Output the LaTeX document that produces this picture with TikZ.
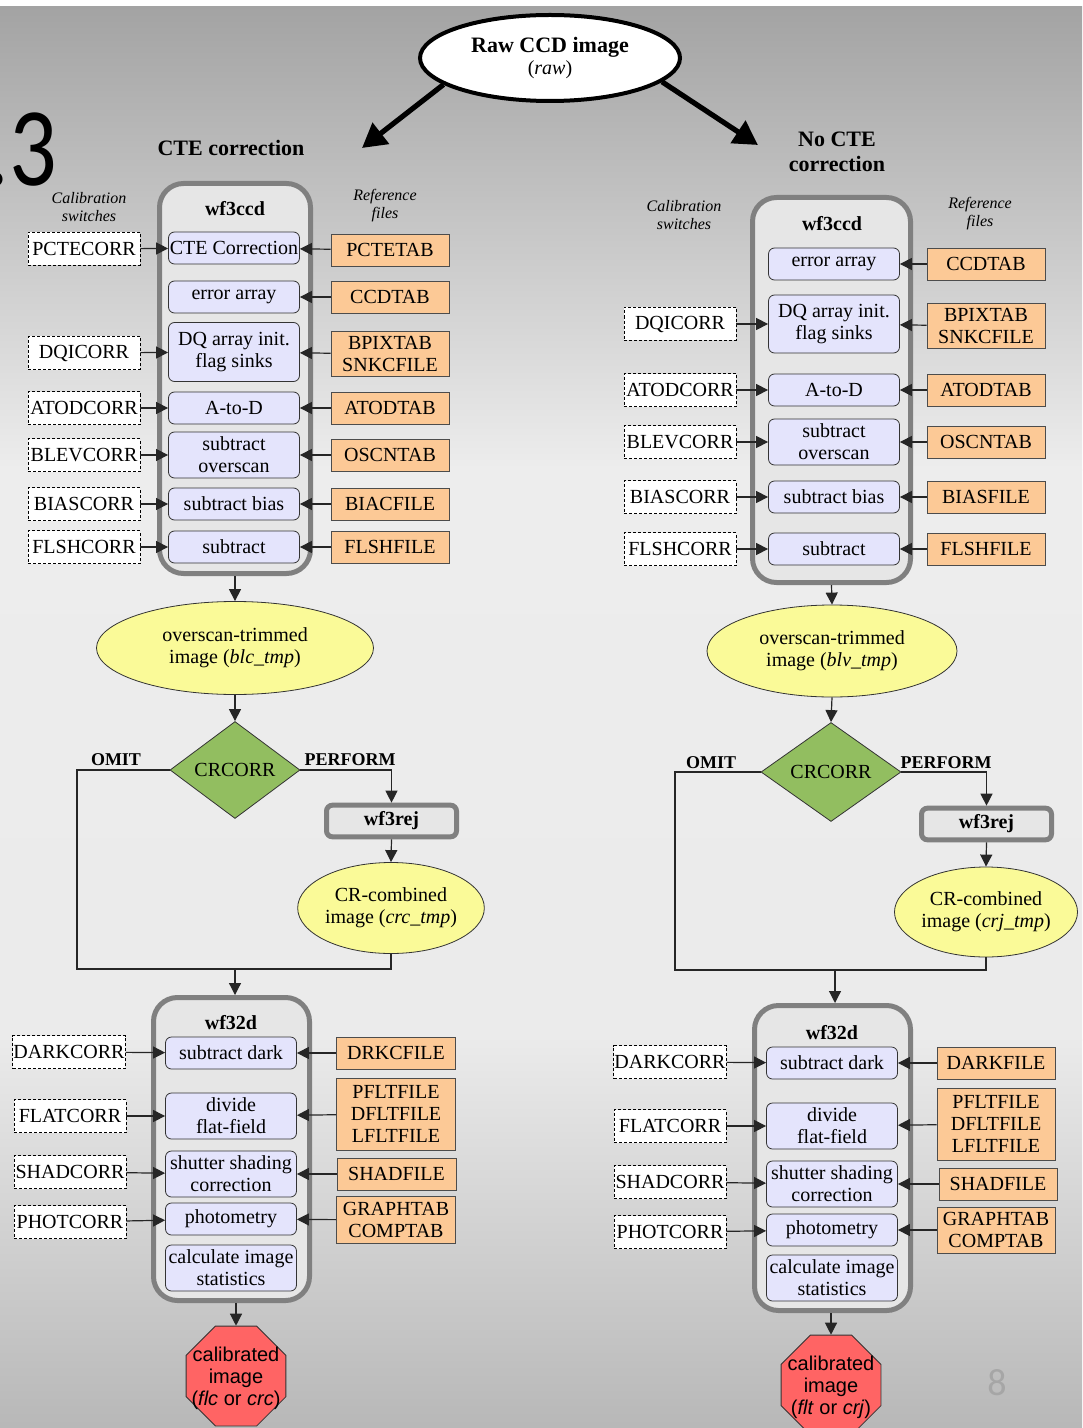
\documentclass[tikz,border=0pt]{standalone}
\usepackage{fontspec}
\setmainfont{Liberation Serif}
\newfontfamily\sansf{Liberation Sans}
\newfontfamily\slidef{Carlito}
\usetikzlibrary{positioning, shapes.geometric, arrows.meta}
\definecolor{procblue}{RGB}{228,228,252}
\definecolor{reforange}{RGB}{252,201,150}
\definecolor{imgyellow}{RGB}{250,250,152}
\definecolor{decgreen}{RGB}{146,190,96}
\definecolor{outred}{RGB}{255,100,100}
\definecolor{modfill}{RGB}{230,230,230}
\definecolor{modline}{RGB}{128,128,128}

\begin{document}
\begin{tikzpicture}[x=0.5pt, y=-0.5pt, font=\fontsize{10}{11}\selectfont,
  proc/.style={draw=black!80, fill=procblue, rounded corners=3pt, align=center,
    minimum width=65.5pt, minimum height=16pt, inner xsep=0.5pt, inner ysep=1pt},
  sw/.style={draw, dash pattern=on 1.5pt off 1pt, fill=white, minimum width=56pt,
    minimum height=16.5pt, inner xsep=0.3pt},
  ref/.style={draw=black!70, fill=reforange, align=center, minimum width=59pt,
    minimum height=16pt, inner xsep=0.5pt, inner ysep=1pt},
  module/.style={draw=modline, line width=2.5pt, fill=modfill, rounded corners=12pt},
  rej/.style={draw=modline, line width=2.5pt, fill=modfill, rounded corners=3pt,
    minimum width=65pt, minimum height=14.5pt, font=\bfseries},
  img/.style={ellipse, draw=black!80, fill=imgyellow, align=center, inner sep=0pt},
  dec/.style={diamond, draw=black!80, fill=decgreen, inner sep=0pt},
  calimg/.style={regular polygon, regular polygon sides=8, draw=black!80, fill=outred,
    inner sep=0pt, minimum size=54pt, font=\sansf\fontsize{10}{11}\selectfont},
  lab/.style={align=center, font=\itshape\fontsize{8}{9}\selectfont},
  head/.style={align=center, font=\bfseries\fontsize{11}{12.5}\selectfont},
  branch/.style={font=\bfseries\fontsize{9}{10}\selectfont},
  conn/.style={draw=black!85, line width=0.6pt},
  arr/.style={conn, -{Triangle[length=6pt,width=6pt]}},
  big/.style={draw=black, line width=2.6pt, -{Triangle[length=12pt,width=13pt]}}]

\useasboundingbox (0,0) rectangle (1082,1428);
\shade[top color=black!36, bottom color=black!7] (0,7) rectangle (1082,470);
\shade[top color=black!7, bottom color=black!8] (0,469) rectangle (1082,1040);
\shade[top color=black!8, bottom color=black!28] (0,1039) rectangle (1082,1428);

\node[font=\slidef\fontsize{56}{56}\selectfont, anchor=base east] (num) at (64,186)
  {\scalebox{0.84}[1]{.3}};
\node[font=\slidef\fontsize{19}{19}\selectfont, text=black!35] (page) at (997,1383) {8};

\node[ellipse, draw=black, line width=2pt, fill=white, minimum width=130pt,
  minimum height=43pt, inner sep=0pt, align=center] (raw) at (550,58)
  {{\bfseries\fontsize{11}{12.5}\selectfont Raw CCD image}\\(\textit{raw})};
\coordinate (Ltip) at (362,148);
\coordinate (Rtip) at (758,145);
\draw[big] (raw.194) -- (Ltip);
\draw[big] (raw.-12) -- (Rtip);

\node[head] (Lhead) at (231,148) {CTE correction};
\node[head] (Rhead) at (837,152) {No CTE\\correction};

\node[module, minimum width=75.5pt, minimum height=195pt] (Lccd) at (235,378.5) {};
\node[font=\bfseries] (Lccdt) at (235,209) {wf3ccd};
\node[lab] (Lcal) at (89,207) {Calibration\\switches};
\node[lab] (Lref) at (385,206) {Reference\\files};

\node[proc] (Lp1) at (234,248) {CTE Correction};
\node[proc] (Lp2) at (234,297) {error array};
\node[proc, minimum height=29.5pt] (Lp3) at (234,352) {DQ array init.\\flag sinks};
\node[proc] (Lp4) at (234,408) {A-to-D};
\node[proc, minimum height=23pt] (Lp5) at (234,455) {subtract\\overscan};
\node[proc] (Lp6) at (234,504) {subtract bias};
\node[proc] (Lp7) at (234,547) {subtract};

\node[sw] (Ls1) at (84,249) {PCTECORR};
\node[sw] (Ls3) at (84,353) {DQICORR};
\node[sw] (Ls4) at (84,408) {ATODCORR};
\node[sw] (Ls5) at (84,455) {BLEVCORR};
\node[sw] (Ls6) at (84,504) {BIASCORR};
\node[sw] (Ls7) at (84,547) {FLSHCORR};

\node[ref] (Lr1) at (390,250) {PCTETAB};
\node[ref] (Lr2) at (390,297) {CCDTAB};
\node[ref, minimum height=22.5pt] (Lr3) at (390,354) {BPIXTAB\\SNKCFILE};
\node[ref] (Lr4) at (390,408) {ATODTAB};
\node[ref] (Lr5) at (390,455) {OSCNTAB};
\node[ref] (Lr6) at (390,504) {BIACFILE};
\node[ref] (Lr7) at (390,547) {FLSHFILE};

\draw[arr] (Ls1) -- (Lp1);
\draw[arr] (Ls3) -- (Lp3);
\draw[arr] (Ls4) -- (Lp4);
\draw[arr] (Ls5) -- (Lp5);
\draw[arr] (Ls6) -- (Lp6);
\draw[arr] (Ls7) -- (Lp7);
\draw[arr] (Lr1) -- (Lp1);
\draw[arr] (Lr2) -- (Lp2);
\draw[arr] (Lr3) -- (Lp3);
\draw[arr] (Lr4) -- (Lp4);
\draw[arr] (Lr5) -- (Lp5);
\draw[arr] (Lr6) -- (Lp6);
\draw[arr] (Lr7) -- (Lp7);

\node[img, minimum width=138.5pt, minimum height=46.5pt] (Limg) at (235,648)
  {overscan-trimmed\\image (\textit{blc\_tmp})};
\node[dec, minimum width=65pt, minimum height=48.5pt] (Ldec) at (235,770) {CRCORR};
\node[rej] (Lrej) at (391.5,821) {wf3rej};
\node[img, minimum width=88.5pt, minimum height=45.5pt] (Lcrc) at (391,908)
  {CR-combined\\image (\textit{crc\_tmp})};
\node[branch] (Lomit) at (116,760) {OMIT};
\node[branch] (Lperf) at (350,760) {PERFORM};

\draw[arr] (Lccd.south) -- (Limg.north);
\draw[arr] (Limg.south) -- (Ldec.north);
\draw[arr] (Ldec.east) -| (Lrej.north);
\draw[arr] (Lrej.south) -- (Lcrc.north);
\coordinate (Lo) at (77,969);
\draw[conn] (Ldec.west) -| (Lo) -| (Lcrc.south);

\node[module, minimum width=78pt, minimum height=151.5pt] (L2d) at (231.5,1149) {};
\node[font=\bfseries] (L2dt) at (231,1023) {wf32d};
\coordinate (Lj) at (235,969);
\draw[arr] (Lj) -- (Lj |- L2d.north);

\node[proc] (Lq1) at (231,1053) {subtract dark};
\node[proc, minimum height=23pt] (Lq2) at (231,1116) {divide\\flat-field};
\node[proc, minimum height=23pt] (Lq3) at (231,1174) {shutter shading\\correction};
\node[proc] (Lq4) at (231,1219) {photometry};
\node[proc, minimum height=23pt] (Lq5) at (231,1268) {calculate image\\statistics};

\node[sw] (Lt1) at (69,1052) {DARKCORR};
\node[sw] (Lt2) at (70,1116) {FLATCORR};
\node[sw] (Lt3) at (70,1172) {SHADCORR};
\node[sw] (Lt4) at (70,1222) {PHOTCORR};

\node[ref, minimum width=59.5pt] (Lu1) at (396,1053) {DRKCFILE};
\node[ref, minimum width=59.5pt, minimum height=36pt] (Lu2) at (396,1114) {PFLTFILE\\DFLTFILE\\LFLTFILE};
\node[ref, minimum width=59.5pt] (Lu3) at (396.5,1174) {SHADFILE};
\node[ref, minimum width=59.5pt, minimum height=23.5pt] (Lu4) at (396,1220) {GRAPHTAB\\COMPTAB};

\draw[arr] (Lt1) -- (Lq1);
\draw[arr] (Lt2) -- (Lq2);
\draw[arr] (Lt3) -- (Lq3);
\draw[arr] (Lt4) -- (Lq4);
\draw[arr] (Lu1) -- (Lq1);
\draw[arr] (Lu2) -- (Lq2);
\draw[arr] (Lu3) -- (Lq3);
\draw[arr] (Lu4) -- (Lq4);

\node[calimg] (Lout) at (236,1376) {\raisebox{-4pt}[0pt][0pt]{\makebox[0pt]{%
  \begin{tabular}{@{}c@{}}calibrated\\image\\(\textit{flc} or \textit{crc})\end{tabular}}}};
\draw[arr] (L2d.south -| Lout.north) -- (Lout.north);

\node[module, minimum width=79pt, minimum height=192.5pt] (Rccd) at (831.5,390) {};
\node[font=\bfseries] (Rccdt) at (832,224) {wf3ccd};
\node[lab] (Rcal) at (684,215) {Calibration\\switches};
\node[lab] (Rref) at (980,214) {Reference\\files};

\node[proc] (Rp2) at (834,264) {error array};
\node[proc, minimum height=29pt] (Rp3) at (834,324) {DQ array init.\\flag sinks};
\node[proc] (Rp4) at (834,390) {A-to-D};
\node[proc, minimum height=23pt] (Rp5) at (834,442) {subtract\\overscan};
\node[proc] (Rp6) at (834,497) {subtract bias};
\node[proc] (Rp7) at (834,549) {subtract};

\node[sw] (Rs3) at (680,324) {DQICORR};
\node[sw] (Rs4) at (680,390) {ATODCORR};
\node[sw] (Rs5) at (680,442) {BLEVCORR};
\node[sw] (Rs6) at (680,497) {BIASCORR};
\node[sw] (Rs7) at (680,549) {FLSHCORR};

\node[ref] (Rr2) at (986,264) {CCDTAB};
\node[ref, minimum height=22.5pt] (Rr3) at (986,326) {BPIXTAB\\SNKCFILE};
\node[ref] (Rr4) at (986,390) {ATODTAB};
\node[ref] (Rr5) at (986,442) {OSCNTAB};
\node[ref] (Rr6) at (986,497) {BIASFILE};
\node[ref] (Rr7) at (986,549) {FLSHFILE};

\draw[arr] (Rs3) -- (Rp3);
\draw[arr] (Rs4) -- (Rp4);
\draw[arr] (Rs5) -- (Rp5);
\draw[arr] (Rs6) -- (Rp6);
\draw[arr] (Rs7) -- (Rp7);
\draw[arr] (Rr2) -- (Rp2);
\draw[arr] (Rr3) -- (Rp3);
\draw[arr] (Rr4) -- (Rp4);
\draw[arr] (Rr5) -- (Rp5);
\draw[arr] (Rr6) -- (Rp6);
\draw[arr] (Rr7) -- (Rp7);

\node[img, minimum width=125pt, minimum height=46pt] (Rimg) at (832,651)
  {overscan-trimmed\\image (\textit{blv\_tmp})};
\node[dec, minimum width=70pt, minimum height=49.5pt] (Rdec) at (831,772) {CRCORR};
\node[rej] (Rrej) at (986.5,824) {wf3rej};
\node[img, minimum width=89.5pt, minimum height=45pt] (Rcrc) at (986,912)
  {CR-combined\\image (\textit{crj\_tmp})};
\node[branch] (Romit) at (711,763) {OMIT};
\node[branch] (Rperf) at (946,763) {PERFORM};

\draw[arr] (Rccd.south) -- (Rimg.north);
\draw[arr] (Rimg.south) -- (Rdec.north);
\draw[arr] (Rdec.east) -| (Rrej.north);
\draw[arr] (Rrej.south) -- (Rcrc.north);
\coordinate (Ro) at (675,970);
\draw[conn] (Rdec.west) -| (Ro) -| (Rcrc.south);

\node[module, minimum width=78pt, minimum height=152.5pt] (R2d) at (832.5,1158) {};
\node[font=\bfseries] (R2dt) at (832,1033) {wf32d};
\coordinate (Rj) at (835,970);
\draw[arr] (Rj) -- (Rj |- R2d.north);

\node[proc] (Rq1) at (832,1063) {subtract dark};
\node[proc, minimum height=23pt] (Rq2) at (832,1126) {divide\\flat-field};
\node[proc, minimum height=23pt] (Rq3) at (832,1184) {shutter shading\\correction};
\node[proc] (Rq4) at (832,1230) {photometry};
\node[proc, minimum height=23pt] (Rq5) at (832,1278) {calculate image\\statistics};

\node[sw] (Rt1) at (670,1062) {DARKCORR};
\node[sw] (Rt2) at (670,1126) {FLATCORR};
\node[sw] (Rt3) at (670,1182) {SHADCORR};
\node[sw] (Rt4) at (670,1232) {PHOTCORR};

\node[ref, minimum width=59pt] (Ru1) at (996,1063) {DARKFILE};
\node[ref, minimum height=36pt] (Ru2) at (996,1124) {PFLTFILE\\DFLTFILE\\LFLTFILE};
\node[ref] (Ru3) at (998,1184) {SHADFILE};
\node[ref, minimum height=23pt] (Ru4) at (996,1230) {GRAPHTAB\\COMPTAB};

\draw[arr] (Rt1) -- (Rq1);
\draw[arr] (Rt2) -- (Rq2);
\draw[arr] (Rt3) -- (Rq3);
\draw[arr] (Rt4) -- (Rq4);
\draw[arr] (Ru1) -- (Rq1);
\draw[arr] (Ru2) -- (Rq2);
\draw[arr] (Ru3) -- (Rq3);
\draw[arr] (Ru4) -- (Rq4);

\node[calimg] (Rout) at (831,1385) {\raisebox{-4pt}[0pt][0pt]{\makebox[0pt]{%
  \begin{tabular}{@{}c@{}}calibrated\\image\\(\textit{flt} or \textit{crj})\end{tabular}}}};
\draw[arr] (R2d.south -| Rout.north) -- (Rout.north);
\end{tikzpicture}
\end{document}
